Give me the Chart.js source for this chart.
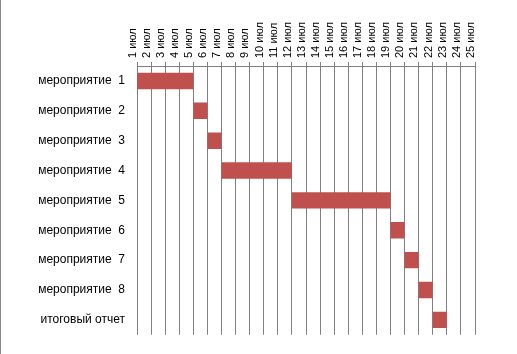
<!DOCTYPE html>
<html>
<head>
<meta charset="utf-8">
<script src="https://cdn.jsdelivr.net/npm/chart.js@4"></script>
<style>
  html, body { margin: 0; padding: 0; background: #fff; }
  #wrap { position: absolute; left: 0; top: 0; width: 516px; height: 354px; border-left: 1px solid #888; }
  canvas { display: block; }
</style>
</head>
<body>
<div id="wrap"><canvas id="c" width="516" height="354"></canvas></div>
<script>
const categories = ['мероприятие  1', 'мероприятие  2', 'мероприятие  3', 'мероприятие  4',
  'мероприятие  5', 'мероприятие  6', 'мероприятие  7', 'мероприятие  8', 'итоговый отчет'];
const startDays = [1, 5, 6, 7, 12, 19, 20, 21, 22];
const endDays   = [5, 6, 7, 12, 19, 20, 21, 22, 23];
const firstDay = 1, lastDay = 25;
const monthLabel = 'июл';

const ranges = startDays.map((s, i) => [s, endDays[i]]);

new Chart(document.getElementById('c'), {
  type: 'bar',
  data: {
    labels: categories,
    datasets: [{
      data: ranges,
      backgroundColor: '#C0504D',
      borderWidth: 0,
      categoryPercentage: 1,
      barPercentage: 0.55
    }]
  },
  options: {
    indexAxis: 'y',
    responsive: false,
    animation: false,
    layout: { padding: { left: 0, top: 0, right: 42, bottom: 10 } },
    plugins: { legend: { display: false }, tooltip: { enabled: false } },
    scales: {
      x: {
        type: 'linear',
        position: 'top',
        min: firstDay,
        max: lastDay,
        afterFit: (s) => { s.height = 66; },
        ticks: {
          stepSize: 1,
          autoSkip: false,
          maxRotation: 90,
          minRotation: 90,
          padding: 4,
          labelOffset: 9,
          color: '#000',
          font: { family: 'Liberation Sans, Arial, sans-serif', size: 11 },
          callback: (v) => v + ' ' + monthLabel
        },
        grid: { color: '#808080', lineWidth: 1, tickLength: 4, drawTicks: true },
        border: { color: '#808080', width: 1 }
      },
      y: {
        afterFit: (s) => { s.width = 136; },
        ticks: {
          color: '#000',
          padding: 12,
          font: { family: 'Liberation Sans, Arial, sans-serif', size: 12 }
        },
        grid: { display: false, drawTicks: false },
        border: { display: false }
      }
    }
  }
});
</script>
</body>
</html>
